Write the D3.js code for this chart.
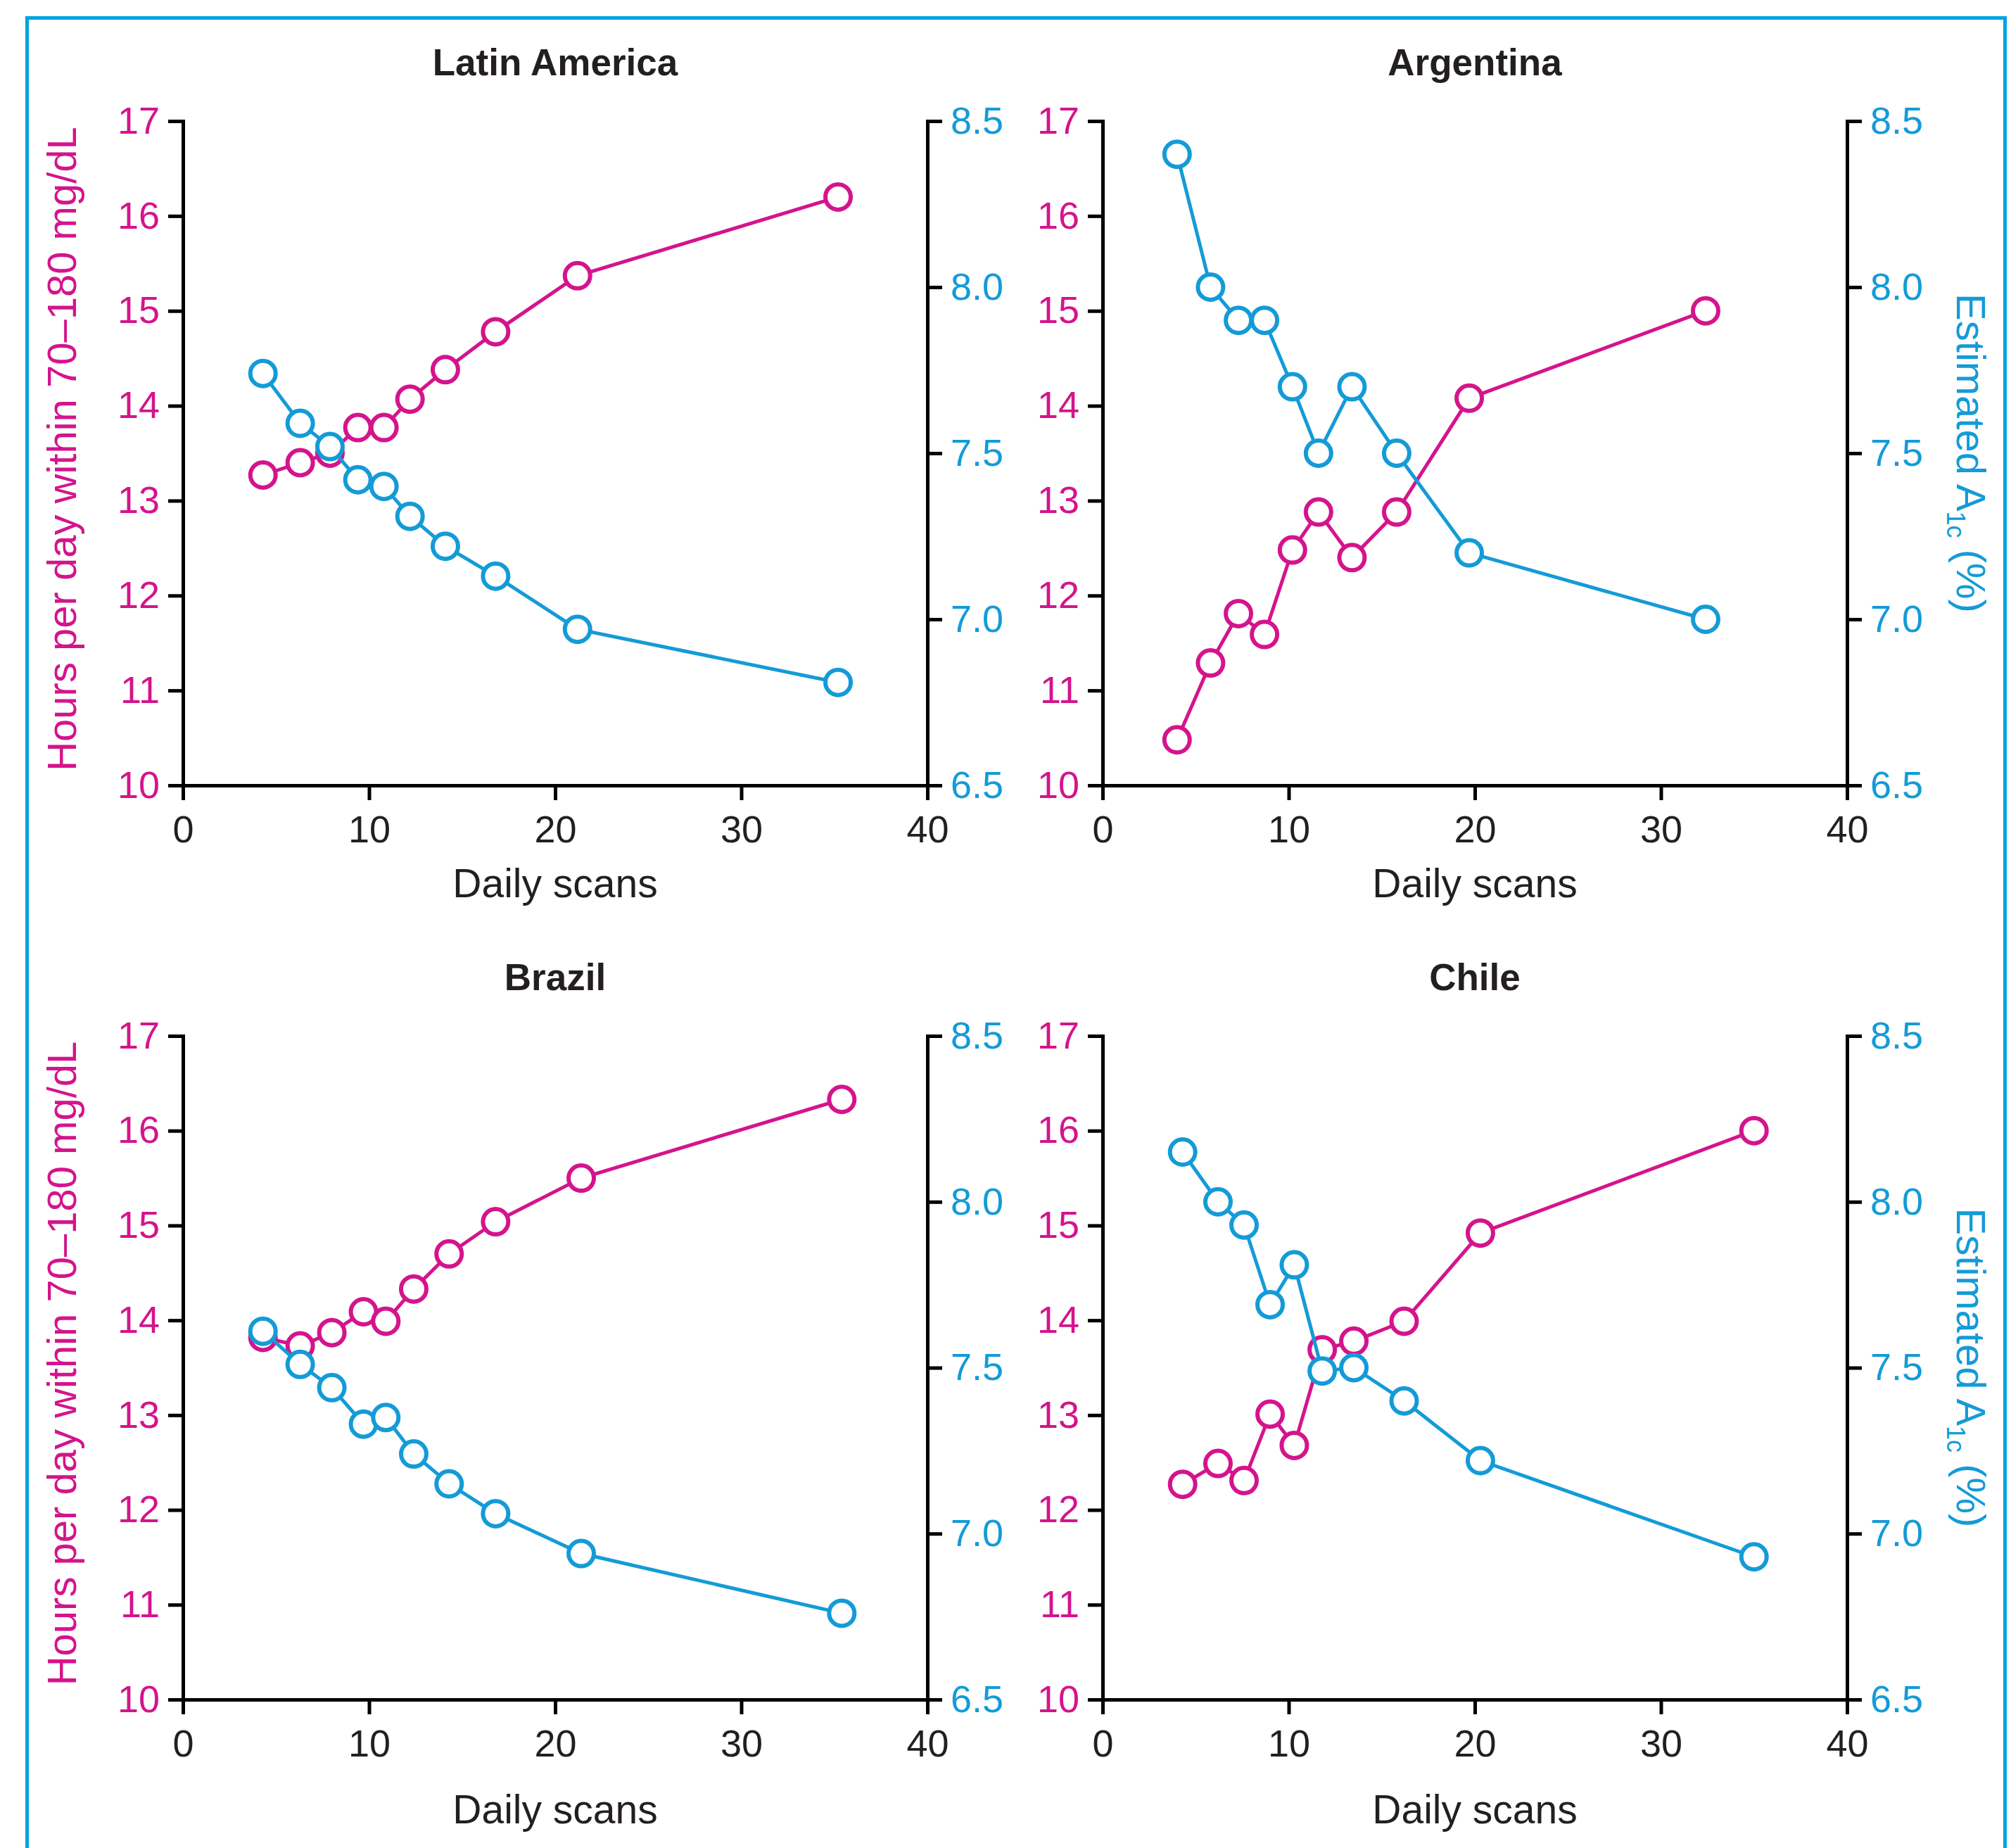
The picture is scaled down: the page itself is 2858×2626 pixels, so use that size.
<!DOCTYPE html>
<html>
<head>
<meta charset="utf-8">
<script src="https://cdn.jsdelivr.net/npm/d3@7/dist/d3.min.js"></script>
<style>
  body { margin: 0; background: #fff; }
  text { font-family: "Liberation Sans", Arial, Helvetica, sans-serif; }
</style>
</head>
<body>
<script>
var W = 2858, H = 2626;
var magenta = "#d4148c", cyan = "#149bd7", ink = "#231f20", frame = "#00a3e0";

// data
var regions = ["Latin America", "Argentina", "Brazil", "Chile"];

var scansLatAm = [4.3, 6.3, 7.9, 9.4, 10.8, 12.2, 14.1, 16.8, 21.2, 35.2];
var hoursLatAm = [13.27, 13.4, 13.5, 13.77, 13.77, 14.07, 14.38, 14.78, 15.37, 16.2];
var a1cLatAm = [7.74, 7.59, 7.52, 7.42, 7.4, 7.31, 7.22, 7.13, 6.97, 6.81];

var scansArg = [4.0, 5.8, 7.3, 8.7, 10.2, 11.6, 13.4, 15.8, 19.7, 32.4];
var hoursArg = [10.48, 11.29, 11.81, 11.59, 12.48, 12.88, 12.4, 12.88, 14.08, 15.0];
var a1cArg = [8.4, 8.0, 7.9, 7.9, 7.7, 7.5, 7.7, 7.5, 7.2, 7.0];

var scansBra = [4.3, 6.3, 8.0, 9.7, 10.9, 12.4, 14.3, 16.8, 21.4, 35.4];
var hoursBra = [13.82, 13.73, 13.87, 14.09, 13.99, 14.33, 14.7, 15.04, 15.5, 16.33];
var a1cBra = [7.61, 7.51, 7.44, 7.33, 7.35, 7.24, 7.15, 7.06, 6.94, 6.76];

var scansChi = [4.3, 6.2, 7.6, 9.0, 10.3, 11.8, 13.5, 16.2, 20.3, 35.0];
var hoursChi = [12.27, 12.49, 12.31, 13.01, 12.68, 13.69, 13.78, 13.99, 14.92, 16.0];
var a1cChi = [8.15, 8.0, 7.93, 7.69, 7.81, 7.49, 7.5, 7.4, 7.22, 6.93];

var xTicks = [0, 10, 20, 30, 40];
var hourTicks = [10, 11, 12, 13, 14, 15, 16, 17];
var a1cTicks = [6.5, 7.0, 7.5, 8.0, 8.5];

var xTitle = "Daily scans";
var leftTitle = "Hours per day within 70\u2013180 mg/dL";

var series = [
  { scans: scansLatAm, hours: hoursLatAm, a1c: a1cLatAm },
  { scans: scansArg, hours: hoursArg, a1c: a1cArg },
  { scans: scansBra, hours: hoursBra, a1c: a1cBra },
  { scans: scansChi, hours: hoursChi, a1c: a1cChi }
];

// layout
var cols = [[260, 1318], [1567, 2625]];
var rows = [[172, 1116], [1472, 2415]];
var xTitleGap = [159, 176];

var svg = d3.select("body").append("svg")
  .attr("width", W)
  .attr("height", H);

// blue frame (bottom edge is off the picture)
svg.append("rect")
  .attr("x", 38.5)
  .attr("y", 25.5)
  .attr("width", 2811)
  .attr("height", 3000)
  .attr("fill", "none")
  .attr("stroke", frame)
  .attr("stroke-width", 5);

regions.forEach(function (name, i) {
  var row = Math.floor(i / 2);
  var c = cols[i % 2], r = rows[row];
  var d = series[i];

  var x = d3.scaleLinear().domain([0, 40]).range(c);
  var yL = d3.scaleLinear().domain([10, 17]).range([r[1], r[0]]);
  var yR = d3.scaleLinear().domain([6.5, 8.5]).range([r[1], r[0]]);

  var g = svg.append("g");

  var ax = g.append("g")
    .attr("transform", "translate(0," + r[1] + ")")
    .call(d3.axisBottom(x).tickValues(xTicks).tickFormat(d3.format("d"))
      .tickSize(21).tickSizeOuter(0).tickPadding(22));
  ax.selectAll("text").attr("fill", ink).style("font-size", "54px");

  var al = g.append("g")
    .attr("transform", "translate(" + c[0] + ",0)")
    .call(d3.axisLeft(yL).tickValues(hourTicks).tickFormat(d3.format("d"))
      .tickSize(21).tickSizeOuter(0).tickPadding(12));
  al.selectAll("text").attr("fill", magenta).style("font-size", "54px");

  var ar = g.append("g")
    .attr("transform", "translate(" + c[1] + ",0)")
    .call(d3.axisRight(yR).tickValues(a1cTicks).tickFormat(d3.format(".1f"))
      .tickSize(21).tickSizeOuter(0).tickPadding(12));
  ar.selectAll("text").attr("fill", cyan).style("font-size", "54px");

  g.selectAll(".domain, .tick line")
    .attr("stroke", "#000")
    .attr("stroke-width", 5);
  g.selectAll(".domain").attr("stroke-linecap", "square");

  // panel title
  g.append("text")
    .attr("x", (c[0] + c[1]) / 2)
    .attr("y", r[0] - 65)
    .attr("text-anchor", "middle")
    .attr("fill", ink)
    .style("font-size", "53px")
    .style("font-weight", "bold")
    .text(name);

  // x title
  g.append("text")
    .attr("x", (c[0] + c[1]) / 2)
    .attr("y", r[1] + xTitleGap[row])
    .attr("text-anchor", "middle")
    .attr("fill", ink)
    .style("font-size", "57px")
    .text(xTitle);

  var midY = (r[0] + r[1]) / 2;
  if (i % 2 === 0) {
    g.append("text")
      .attr("transform", "translate(108," + (midY - 6) + ") rotate(-90)")
      .attr("text-anchor", "middle")
      .attr("fill", magenta)
      .style("font-size", "58px")
      .text(leftTitle);
  } else {
    var t = g.append("text")
      .attr("transform", "translate(2781," + midY + ") rotate(90)")
      .attr("text-anchor", "middle")
      .attr("fill", cyan)
      .style("font-size", "58px");
    t.append("tspan").text("Estimated A");
    t.append("tspan").attr("dy", 14).style("font-size", "36px").text("1c");
    t.append("tspan").attr("dy", -14).text(" (%)");
  }

  var pts = d.scans.map(function (s, k) {
    return { s: s, h: d.hours[k], a: d.a1c[k] };
  });

  var lineH = d3.line().x(function (p) { return x(p.s); }).y(function (p) { return yL(p.h); });
  var lineA = d3.line().x(function (p) { return x(p.s); }).y(function (p) { return yR(p.a); });

  g.append("path").datum(pts)
    .attr("d", lineH)
    .attr("fill", "none")
    .attr("stroke", magenta)
    .attr("stroke-width", 5);
  g.selectAll(".mh").data(pts).enter().append("circle")
    .attr("class", "mh")
    .attr("cx", function (p) { return x(p.s); })
    .attr("cy", function (p) { return yL(p.h); })
    .attr("r", 18)
    .attr("fill", "#fff")
    .attr("stroke", magenta)
    .attr("stroke-width", 6);

  g.append("path").datum(pts)
    .attr("d", lineA)
    .attr("fill", "none")
    .attr("stroke", cyan)
    .attr("stroke-width", 5);
  g.selectAll(".ma").data(pts).enter().append("circle")
    .attr("class", "ma")
    .attr("cx", function (p) { return x(p.s); })
    .attr("cy", function (p) { return yR(p.a); })
    .attr("r", 18)
    .attr("fill", "#fff")
    .attr("stroke", cyan)
    .attr("stroke-width", 6);
});
</script>
</body>
</html>
